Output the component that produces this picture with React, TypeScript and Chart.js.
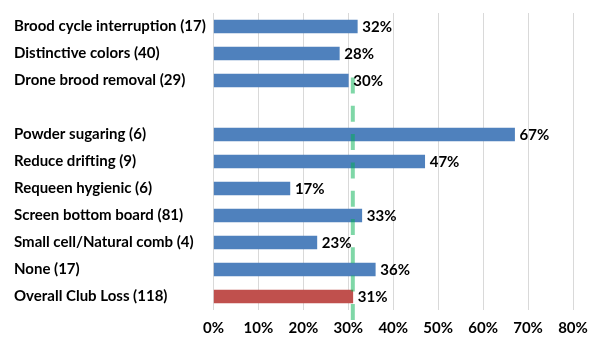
import React, { useEffect, useRef } from 'react';
import { Chart, registerables } from 'chart.js';

Chart.register(...registerables);

const categories = [
  'Brood cycle interruption (17)',
  'Distinctive colors (40)',
  'Drone brood removal (29)',
  '',
  'Powder sugaring (6)',
  'Reduce drifting (9)',
  'Requeen hygienic (6)',
  'Screen bottom board (81)',
  'Small cell/Natural comb (4)',
  'None (17)',
  'Overall Club Loss (118)',
];
const lossPercent = [32, 28, 30, null, 67, 47, 17, 33, 23, 36, 31];
const overallLoss = 31;
const overallIndex = 10;
const lineStartIndex = 2;
const xMax = 80;
const xStep = 10;

const FONT = 'Lato, "Open Sans", sans-serif';

const overlayPlugin = {
  id: 'overlay',
  afterDatasetsDraw(chart: any) {
    const { ctx, chartArea } = chart;
    const xs = chart.scales.x;
    const ys = chart.scales.y;
    // dashed green reference line at the overall loss value
    const x = xs.getPixelForValue(overallLoss);
    const yTop = ys.getPixelForValue(lineStartIndex) - 3;
    const yBot = chartArea.bottom + 11;
    ctx.save();
    ctx.strokeStyle = 'rgba(0, 176, 80, 0.5)';
    ctx.lineWidth = 4;
    ctx.setLineDash([16, 12.3]);
    ctx.beginPath();
    ctx.moveTo(x, yTop);
    ctx.lineTo(x, yBot);
    ctx.stroke();
    ctx.restore();

    // value labels
    const meta = chart.getDatasetMeta(0);
    ctx.save();
    ctx.font = `bold 15px ${FONT}`;
    ctx.fillStyle = '#000';
    ctx.textAlign = 'left';
    ctx.textBaseline = 'middle';
    meta.data.forEach((bar: any, i: number) => {
      const v = lossPercent[i];
      if (v === null || v === undefined) return;
      ctx.fillText(`${v}%`, bar.x + 5, bar.y + 1);
    });
    ctx.restore();
  },
};

export default function App() {
  const ref = useRef<HTMLCanvasElement | null>(null);

  useEffect(() => {
    if (!ref.current) return;
    const colors = categories.map((_, i) => (i === overallIndex ? '#C0504D' : '#4F81BD'));
    const chart = new Chart(ref.current, {
      type: 'bar',
      data: {
        labels: categories,
        datasets: [
          {
            data: lossPercent as any,
            backgroundColor: colors,
            borderWidth: 0,
            barThickness: 13,
          },
        ],
      },
      options: {
        indexAxis: 'y',
        responsive: false,
        animation: false,
        layout: { padding: { left: 14, top: 13, right: 27, bottom: 0 } },
        plugins: {
          legend: { display: false },
          tooltip: { enabled: false },
        },
        scales: {
          x: {
            min: 0,
            max: xMax,
            ticks: {
              stepSize: xStep,
              callback: (v: any) => `${v}%`,
              color: '#000',
              font: { family: FONT, size: 15, weight: 'bold' },
              padding: 9,
            },
            grid: { color: '#D9D9D9', lineWidth: 1, drawTicks: false },
            border: { display: false },
            afterFit: (s: any) => {
              s.height = 40;
            },
          },
          y: {
            ticks: {
              crossAlign: 'far',
              color: '#000',
              font: { family: FONT, size: 15, weight: 'bold' },
            },
            grid: { display: false, drawTicks: false },
            border: { display: false },
            afterFit: (s: any) => {
              s.width = 199.5;
            },
          },
        },
      },
      plugins: [overlayPlugin],
    });
    return () => chart.destroy();
  }, []);

  return (
    <div style={{ position: 'absolute', left: 0, top: 0, width: 600, height: 350, background: '#fff' }}>
      <canvas ref={ref} width={600} height={350} style={{ display: 'block' }} />
    </div>
  );
}
